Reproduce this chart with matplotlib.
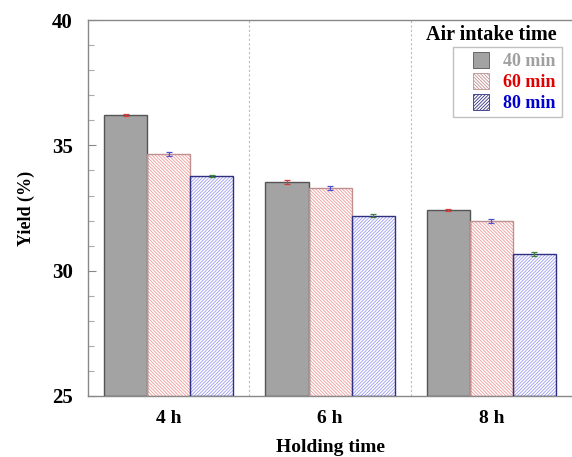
import numpy as np
import matplotlib.pyplot as plt
from matplotlib.ticker import MultipleLocator
from matplotlib.patches import Rectangle

plt.rcParams['font.family'] = 'Liberation Serif'
plt.rcParams['font.weight'] = 'bold'
plt.rcParams['hatch.linewidth'] = 0.6

groups = ['4 h', '6 h', '8 h']
series = ['40 min', '60 min', '80 min']
yield_40 = [36.21, 33.54, 32.43]
yield_60 = [34.65, 33.30, 31.99]
yield_80 = [33.77, 32.20, 30.67]
err_40 = [0.04, 0.08, 0.05]
err_60 = [0.08, 0.08, 0.08]
err_80 = [0.04, 0.05, 0.08]

values = [yield_40, yield_60, yield_80]
errors = [err_40, err_60, err_80]
faces = ['#a3a3a3', 'white', 'white']
hatch_cols = ['#555555', '#f29a9a', '#9c9cf2']
hatches = [None, '\\' * 10, '/' * 10]
edges = ['#555555', '#c09090', '#303080']
err_cols = ['#d04040', '#5050d0', '#408040']
label_cols = ['#a0a0a0', '#e00000', '#0000d0']

fig = plt.figure(figsize=(5.72, 4.57), dpi=100)
ax = fig.add_axes([0.154, 0.1335, 0.846, 0.8225])

x = np.arange(len(groups))
w = 0.267
handles = []
for i in range(3):
    pos = x + (i - 1) * w
    b = ax.bar(pos, np.array(values[i]) - 25, w, bottom=25, color=faces[i],
               edgecolor=hatch_cols[i], hatch=hatches[i], linewidth=0, zorder=2)
    ax.bar(pos, np.array(values[i]) - 25, w, bottom=25, fill=False,
           edgecolor=edges[i], linewidth=1.0, zorder=3)
    ax.errorbar(pos, values[i], yerr=errors[i], fmt='none', ecolor=err_cols[i],
                elinewidth=0.9, capsize=2.5, capthick=0.9, zorder=4)
    handles.append(b)

for s in [0.5, 1.5]:
    ax.axvline(s, color='#bbbbbb', linestyle=(0, (2, 2)), linewidth=0.8, zorder=1)

ax.set_xlim(-0.5, 2.5)
ax.set_ylim(25, 40)
ax.set_xticks(x)
ax.set_xticklabels(groups, fontsize=14, fontweight='bold')
ax.tick_params(axis='x', length=0, pad=10)
ax.yaxis.set_major_locator(MultipleLocator(5))
ax.yaxis.set_minor_locator(MultipleLocator(1))
ax.tick_params(axis='y', which='major', direction='in', length=6, width=0.8,
               color='#888888', labelsize=15, pad=11)
ax.tick_params(axis='y', which='minor', direction='in', length=4, width=0.8,
               color='#aaaaaa')
for lab in ax.get_yticklabels():
    lab.set_fontweight('bold')

ax.spines['right'].set_visible(False)
for sp in ['top', 'bottom', 'left']:
    ax.spines[sp].set_color('#888888')
    ax.spines[sp].set_linewidth(1.0)

ax.set_xlabel('Holding time', fontsize=14, fontweight='bold', labelpad=9)
ax.set_ylabel('Yield (%)', fontsize=13, fontweight='bold', labelpad=12)

# legend title and frame
fig.text(491 / 572, 1 - 35 / 457, 'Air intake time', fontsize=14.5,
         fontweight='bold', ha='center', va='center')
fig.patches.append(Rectangle((453 / 572, 1 - 117 / 457), 109 / 572, 70 / 457,
                             transform=fig.transFigure, fill=False,
                             edgecolor='#c0c0c0', linewidth=1.0))
leg = fig.legend(handles, series, loc='upper left',
                 bbox_to_anchor=(473 / 572, 1 - 52 / 457),
                 fontsize=13, frameon=False, handlelength=0.9,
                 handleheight=1.0, handletextpad=0.75, labelspacing=0.15,
                 borderpad=0, borderaxespad=0)
for t, c in zip(leg.get_texts(), label_cols):
    t.set_color(c)
    t.set_fontweight('bold')
for h, e in zip(leg.legend_handles, edges):
    h.set_edgecolor(e)
    h.set_linewidth(0.6)

fig.savefig('out.png', dpi=100)
